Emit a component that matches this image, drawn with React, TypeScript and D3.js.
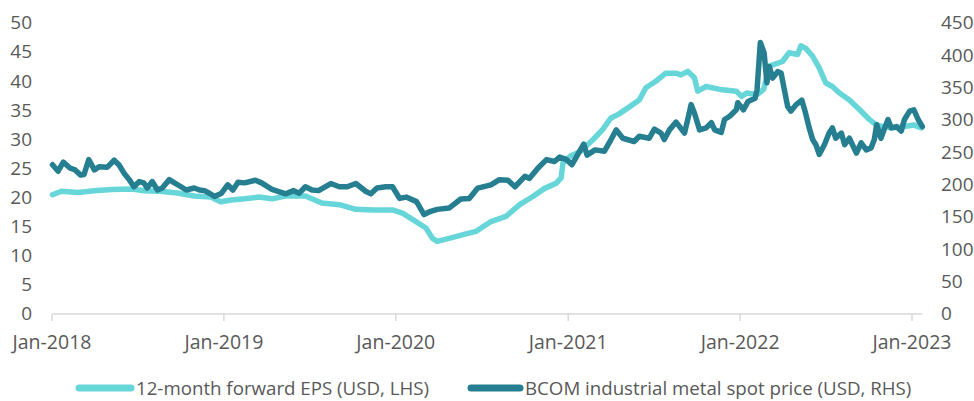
import React from "react";
import * as d3 from "d3";

const W = 974;
const H = 401;

const epsDates = ["2018-01-02","2018-01-21","2018-02-25","2018-04-01","2018-05-08","2018-06-20","2018-07-15","2018-08-19","2018-09-24","2018-10-30","2018-12-04","2018-12-25","2019-01-16","2019-02-14","2019-03-16","2019-04-13","2019-05-12","2019-06-23","2019-07-28","2019-09-03","2019-10-08","2019-11-13","2019-12-25","2020-01-16","2020-02-07","2020-03-05","2020-03-19","2020-03-29","2020-04-23","2020-05-21","2020-06-19","2020-07-21","2020-08-22","2020-09-20","2020-10-18","2020-11-12","2020-12-07","2020-12-17","2020-12-21","2021-01-05","2021-01-26","2021-02-23","2021-03-15","2021-04-02","2021-04-19","2021-05-11","2021-06-01","2021-06-15","2021-07-06","2021-07-27","2021-08-18","2021-08-28","2021-09-12","2021-09-26","2021-10-03","2021-10-21","2021-11-19","2021-12-24","2022-01-04","2022-01-15","2022-02-06","2022-02-20","2022-03-04","2022-04-01","2022-04-15","2022-05-03","2022-05-10","2022-05-20","2022-06-04","2022-06-18","2022-07-02","2022-07-16","2022-07-31","2022-08-21","2022-09-12","2022-10-03","2022-10-17","2022-11-01","2022-11-22","2022-12-13","2023-01-04","2023-01-21"];
const epsValues = [20.4,21.0,20.8,21.1,21.3,21.4,21.1,21.0,20.7,20.2,20.0,19.2,19.5,19.7,20.0,19.7,20.2,20.2,19.0,18.7,17.9,17.8,17.8,17.2,16.1,14.7,12.9,12.4,12.9,13.5,14.1,15.8,16.7,18.7,20.1,21.5,22.4,23.3,25.9,27.0,27.8,29.9,31.6,33.6,34.3,35.5,36.7,38.8,39.9,41.3,41.3,41.0,41.6,40.5,38.2,39.0,38.5,38.2,37.3,37.9,37.6,38.5,42.5,43.3,44.8,44.5,46.0,45.6,44.2,42.2,39.6,39.0,37.9,36.7,35.0,33.3,32.4,32.1,31.9,32.1,32.4,31.9];

const bcomDates = ["2018-01-02","2018-01-14","2018-01-25","2018-02-08","2018-02-19","2018-03-03","2018-03-10","2018-03-20","2018-04-01","2018-04-11","2018-04-28","2018-05-13","2018-05-23","2018-06-03","2018-06-14","2018-06-24","2018-07-05","2018-07-15","2018-07-22","2018-08-02","2018-08-13","2018-08-23","2018-09-07","2018-09-18","2018-10-02","2018-10-13","2018-10-30","2018-11-10","2018-11-21","2018-12-01","2018-12-12","2018-12-27","2019-01-09","2019-01-20","2019-01-31","2019-02-14","2019-03-09","2019-03-22","2019-04-13","2019-05-12","2019-05-29","2019-06-10","2019-06-23","2019-07-07","2019-07-21","2019-08-16","2019-09-03","2019-09-20","2019-10-08","2019-10-29","2019-11-09","2019-11-22","2019-12-11","2019-12-25","2020-01-09","2020-01-23","2020-02-14","2020-03-01","2020-03-15","2020-03-29","2020-04-23","2020-05-18","2020-06-05","2020-06-23","2020-07-21","2020-08-08","2020-08-26","2020-09-10","2020-10-01","2020-10-11","2020-10-29","2020-11-16","2020-12-03","2020-12-14","2020-12-28","2021-01-09","2021-01-23","2021-02-03","2021-02-10","2021-02-27","2021-03-19","2021-04-02","2021-04-13","2021-04-27","2021-05-21","2021-06-01","2021-06-22","2021-07-03","2021-07-17","2021-07-24","2021-08-04","2021-08-18","2021-09-05","2021-09-16","2021-09-19","2021-09-26","2021-10-07","2021-10-21","2021-11-01","2021-11-08","2021-11-22","2021-11-29","2021-12-10","2021-12-24","2021-12-27","2022-01-08","2022-01-18","2022-02-02","2022-02-06","2022-02-13","2022-02-21","2022-02-27","2022-03-04","2022-03-11","2022-03-22","2022-03-29","2022-04-05","2022-04-12","2022-04-19","2022-04-30","2022-05-12","2022-05-20","2022-05-27","2022-06-04","2022-06-11","2022-06-18","2022-06-29","2022-07-09","2022-07-16","2022-07-23","2022-08-04","2022-08-11","2022-08-21","2022-09-05","2022-09-15","2022-09-26","2022-10-06","2022-10-13","2022-10-18","2022-10-27","2022-11-04","2022-11-11","2022-11-18","2022-11-29","2022-12-09","2022-12-16","2022-12-27","2023-01-05","2023-01-14","2023-01-23"];
const bcomValues = [230,220,234,225,222,214,215,238,222,227,226,237,230,217,207,196,204,202,194,204,191,194,207,202,196,191,194,191,190,186,181,186,199,191,203,202,206,202,192,185,190,186,196,191,190,201,196,196,201,189,185,194,196,196,178,180,173,153,158,161,163,177,178,194,199,207,206,196,212,209,225,238,235,242,238,230,248,262,245,253,251,269,284,271,266,274,271,285,279,269,284,296,279,313,323,310,284,287,295,284,280,300,305,315,326,315,328,333,346,419,403,357,382,364,374,372,346,320,313,323,330,310,289,269,261,246,261,279,287,271,279,261,271,248,264,253,256,269,292,271,287,300,287,289,282,300,313,315,300,289];

const xTickDates = ["2018-01-01","2019-01-01","2020-01-01","2021-01-01","2022-01-01","2023-01-01"];
const leftTicks = [0,5,10,15,20,25,30,35,40,45,50];
const rightTicks = [0,50,100,150,200,250,300,350,400,450];
const seriesNames = ["12-month forward EPS (USD, LHS)", "BCOM industrial metal spot price (USD, RHS)"];
const seriesColors = ["#67d6d9", "#267e91"];

const parse = d3.timeParse("%Y-%m-%d");
const fmt = d3.timeFormat("%b-%Y");

export default function App() {
  const x = d3.scaleTime().domain([parse("2018-01-01")!, parse("2023-01-01")!]).range([52, 912]);
  const yL = d3.scaleLinear().domain([0, 50]).range([313.5, 22.5]);
  const yR = d3.scaleLinear().domain([0, 450]).range([313.5, 22.5]);

  const eps = epsDates.map((d, i) => ({ d: parse(d)!, v: epsValues[i] }));
  const bcom = bcomDates.map((d, i) => ({ d: parse(d)!, v: bcomValues[i] }));

  const lineL = d3.line<{ d: Date; v: number }>().x(p => x(p.d)).y(p => yL(p.v));
  const lineR = d3.line<{ d: Date; v: number }>().x(p => x(p.d)).y(p => yR(p.v));

  const font = "'Open Sans', sans-serif";
  const textColor = "#595959";
  const axisColor = "#d9d9d9";
  const axisEnd = x(parse("2023-01-23")!);

  return (
    <svg width={W} height={H} style={{ position: "absolute", left: 0, top: 0 }} fontFamily={font}>
      <rect width={W} height={H} fill="#fff" />
      {leftTicks.map(t => (
        <text key={"l" + t} x={32} y={yL(t)} dy="0.36em" textAnchor="end" fontSize={19} fill={textColor}>{t}</text>
      ))}
      {rightTicks.map(t => (
        <text key={"r" + t} x={941} y={yR(t)} dy="0.36em" textAnchor="start" fontSize={19} fill={textColor}>{t}</text>
      ))}
      <line x1={x(parse("2018-01-01")!)} x2={axisEnd} y1={314} y2={314} stroke={axisColor} strokeWidth={1.5} />
      {xTickDates.map(s => {
        const d = parse(s)!;
        return (
          <g key={s}>
            <line x1={x(d)} x2={x(d)} y1={314} y2={321} stroke={axisColor} strokeWidth={1.5} />
            <text x={x(d)} y={342} dy="0.36em" textAnchor="middle" fontSize={19.5} fill={textColor}>{fmt(d)}</text>
          </g>
        );
      })}
      <path d={lineL(eps) || ""} fill="none" stroke={seriesColors[0]} strokeWidth={5.5} strokeLinejoin="round" strokeLinecap="round" />
      <path d={lineR(bcom) || ""} fill="none" stroke={seriesColors[1]} strokeWidth={5.5} strokeLinejoin="round" strokeLinecap="round" />
      <g>
        <line x1={79} x2={131} y1={388} y2={388} stroke={seriesColors[0]} strokeWidth={7} strokeLinecap="round" />
        <text x={136} y={388} dy="0.36em" fontSize={18.7} fill={textColor}>{seriesNames[0]}</text>
        <line x1={471} x2={520} y1={388} y2={388} stroke={seriesColors[1]} strokeWidth={7} strokeLinecap="round" />
        <text x={525} y={388} dy="0.36em" fontSize={18.7} fill={textColor}>{seriesNames[1]}</text>
      </g>
    </svg>
  );
}
